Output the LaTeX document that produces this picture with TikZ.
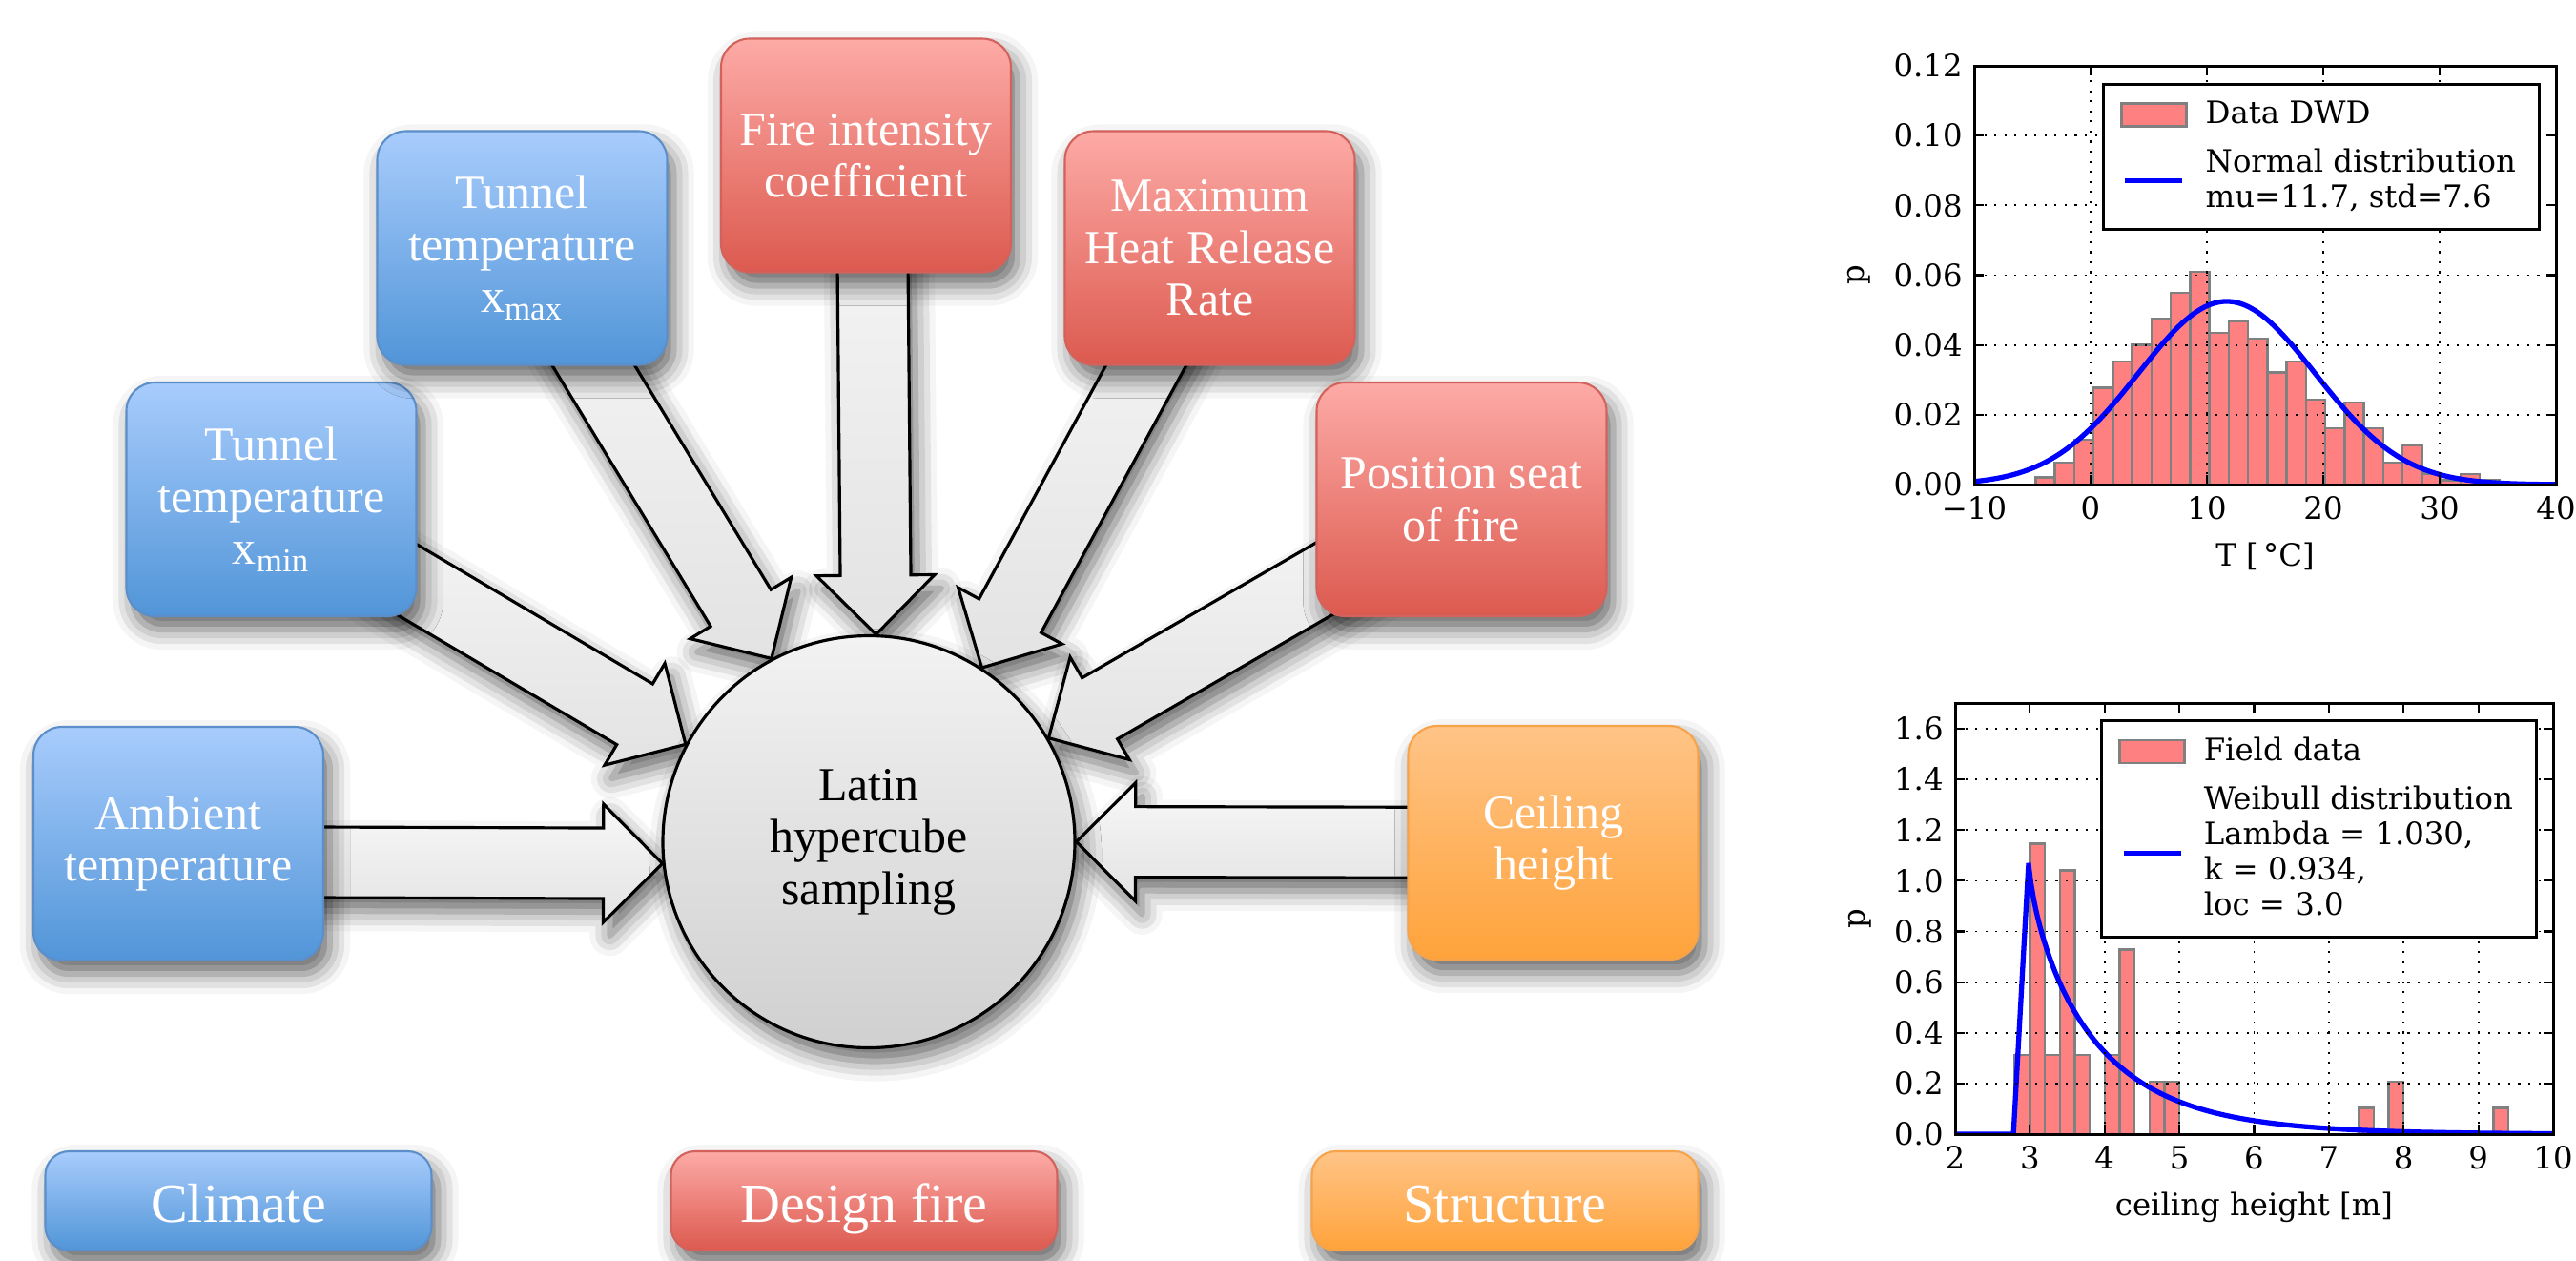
\documentclass[tikz,border=0pt]{standalone}
\usepackage{fontspec}
\setmainfont{Liberation Serif}
\newfontfamily\plotfont{DejaVu Serif}
\usepackage{tikz}
\usetikzlibrary{calc,shadows.blur}
\usepackage{pgfplots}
\pgfplotsset{compat=1.18}

\definecolor{climtop}{HTML}{A8CCFC}
\definecolor{climbot}{HTML}{5195D8}
\definecolor{climline}{HTML}{5C8FC9}
\definecolor{firetop}{HTML}{FDAAA6}
\definecolor{firebot}{HTML}{DC5A4F}
\definecolor{fireline}{HTML}{D2625B}
\definecolor{structtop}{HTML}{FFC487}
\definecolor{structbot}{HTML}{FFA33B}
\definecolor{structline}{HTML}{F6A34A}

\pgfdeclarelayer{back}
\pgfsetlayers{back,main}

% block arrow from a source (box) to a tip on the sampling circle
\newcommand{\feedarrow}[2]{%
  \coordinate (hd) at ($(#2)!0.62cm!(#1)$);
  \draw[feed] ($(#1)!0.37cm!90:(#2)$) -- ($(hd)!0.37cm!90:(#2)$)
    -- ($(hd)!0.62cm!90:(#2)$) -- (#2) -- ($(hd)!0.62cm!-90:(#2)$)
    -- ($(hd)!0.37cm!-90:(#2)$) -- ($(#1)!0.37cm!-90:(#2)$) -- cycle;
}

\pgfplotsset{
  distplot/.style={
    scale only axis, axis on top,
    grid=major,
    major grid style={black, line width=0.5pt, dash pattern=on 0.6pt off 2.4pt},
    axis line style={line width=0.85pt},
    every tick/.style={black, line width=0.6pt}, major tick length=0.1cm,
    tick label style={font={\plotfont\fontsize{9.2pt}{10pt}\selectfont}},
    label style={font={\plotfont\fontsize{9.2pt}{10pt}\selectfont}},
    legend style={draw=black, line width=0.85pt, anchor=north east,
      font={\plotfont\fontsize{9.2pt}{10.5pt}\selectfont},
      cells={anchor=west, align=left}, inner xsep=5pt, inner ysep=3pt,
      row sep=2pt, column sep=0.12cm},
    legend cell align=left,
  },
  histbar/.style={ybar interval, fill=red!50, draw=black!50, line width=0.7pt,
    legend image code/.code={\draw[fill=red!50, draw=black!50, line width=0.7pt]
      (0cm,-0.12cm) rectangle (0.68cm,0.12cm);}},
  pdfcurve/.style={blue, line width=1.5pt, no marks, line join=round,
    legend image code/.code={\draw[blue, line width=1.5pt]
      (0.04cm,0cm) -- (0.64cm,0cm);}},
}

\begin{document}
\begin{tikzpicture}[
  factor/.style={draw, line width=0.6pt, rounded corners=0.3cm,
    minimum width=3.04cm, minimum height=2.45cm, align=center, text=white,
    font={\fontsize{14.2pt}{15.5pt}\selectfont},
    blur shadow={shadow xshift=2pt, shadow yshift=-4pt,
      shadow blur radius=6pt, shadow opacity=60}},
  groupbox/.style={factor, rounded corners=0.25cm,
    minimum width=4.05cm, minimum height=1.04cm,
    text height=0.58cm, text depth=0.13cm,
    font={\fontsize{16.5pt}{18pt}\selectfont}},
  climfill/.style={top color=climtop, bottom color=climbot, draw=climline},
  firefill/.style={top color=firetop, bottom color=firebot, draw=fireline},
  structfill/.style={top color=structtop, bottom color=structbot, draw=structline},
  sampler/.style={circle, draw, line width=0.9pt, minimum size=4.32cm,
    top color=gray!10, bottom color=gray!37, align=center,
    font={\fontsize{14.2pt}{15.5pt}\selectfont},
    blur shadow={shadow xshift=2pt, shadow yshift=-4pt,
      shadow blur radius=6pt, shadow opacity=60}},
  feed/.style={draw, line width=0.9pt, top color=gray!6, bottom color=gray!22,
    blur shadow={shadow xshift=2pt, shadow yshift=-4pt,
      shadow blur radius=6pt, shadow opacity=60}}
]
\useasboundingbox (0,0) rectangle (27.01,-13.21);

% Sampling
\node[sampler] (lhs) at (9.11,-8.825) {Latin\\hypercube\\sampling};

% Input parameters
\node[factor, climfill]   (amb)  at (1.87,-8.845)   {Ambient\\temperature};
\node[factor, climfill]   (tmin) at (2.845,-5.235)  {Tunnel\\temperature\\x\textsubscript{min}};
\node[factor, climfill]   (tmax) at (5.475,-2.60)   {Tunnel\\temperature\\x\textsubscript{max}};
\node[factor, firefill]   (fint) at (9.08,-1.63)    {Fire intensity\\coefficient};
\node[factor, firefill]   (hrr)  at (12.685,-2.60)  {Maximum\\Heat Release\\Rate};
\node[factor, firefill]   (seat) at (15.325,-5.235) {Position seat\\of fire};
\node[factor, structfill] (ceil) at (16.285,-8.835) {Ceiling\\height};

% Groups
\node[groupbox, climfill]   (gclim)   at (2.50,-12.59)  {Climate};
\node[groupbox, firefill]   (gfire)   at (9.06,-12.59)  {Design fire};
\node[groupbox, structfill] (gstruct) at (15.78,-12.59) {Structure};

% Block arrows (behind the boxes)
\begin{pgfonlayer}{back}
\coordinate (ambOut) at ($(amb.center)+(0,-0.19)$);
\coordinate (fintOut) at ($(fint.center)+(0.06,0)$);
\feedarrow{ambOut}{lhs.186}
\feedarrow{tmin}{lhs.152}
\feedarrow{tmax}{lhs.118}
\feedarrow{fintOut}{lhs.88.5}
\feedarrow{hrr}{lhs.57}
\feedarrow{seat}{lhs.30}
\feedarrow{ceil}{lhs.east}
\end{pgfonlayer}

% Temperature distribution
\begin{axis}[distplot, at={(20.70cm,-5.08cm)}, anchor=south west,
  width=6.10cm, height=4.39cm, xmin=-10, xmax=40, ymin=0, ymax=0.12,
  xtick={-10,0,10,20,30,40}, xticklabels={−10,0,10,20,30,40},
  ytick={0,0.02,0.04,0.06,0.08,0.10,0.12},
  yticklabels={0.00,0.02,0.04,0.06,0.08,0.10,0.12},
  xlabel={T [\,°C]}, ylabel={p},
  legend style={at={(0.974,0.959)}}]
\addplot[histbar] coordinates {
  (-4.73,0.0021) (-3.07,0.0063) (-1.41,0.0128) (0.25,0.0277) (1.91,0.0353)
  (3.57,0.0400) (5.23,0.0476) (6.89,0.0549) (8.55,0.0609) (10.21,0.0434)
  (11.87,0.0468) (13.53,0.0418) (15.19,0.0321) (16.85,0.0353) (18.51,0.0244)
  (20.17,0.0162) (21.83,0.0235) (23.49,0.0162) (25.15,0.0063) (26.81,0.0112)
  (28.47,0.0031) (30.13,0.0012) (31.79,0.0030) (33.45,0.0013) (35.11,0)};
\addlegendentry{Data DWD}
\addplot[pdfcurve, domain=-10:40, samples=200]
  {exp(0-((x-11.7)^2)/115.52)/(7.6*2.5066283)};
\addlegendentry{Normal distribution\\mu=11.7, std=7.6}
\end{axis}

% Ceiling height distribution
\begin{axis}[distplot, at={(20.50cm,-11.89cm)}, anchor=south west,
  width=6.27cm, height=4.515cm, xmin=2, xmax=10, ymin=0, ymax=1.7,
  xtick={2,3,4,5,6,7,8,9,10},
  ytick={0,0.2,0.4,0.6,0.8,1.0,1.2,1.4,1.6},
  yticklabels={0.0,0.2,0.4,0.6,0.8,1.0,1.2,1.4,1.6},
  xticklabels={2,3,4,5,6,7,8,9,10},
  xlabel={ceiling height [m]}, ylabel={p},
  legend style={at={(0.9745,0.963)}}]
\addplot[histbar] coordinates {
  (2.8,0.3125) (3.0,1.146) (3.2,0.3125) (3.4,1.042) (3.6,0.3125) (3.8,0)
  (4.0,0.3125) (4.2,0.729) (4.4,0) (4.6,0.208) (4.8,0.208) (5.0,0)
  (7.4,0.104) (7.6,0) (7.8,0.208) (8.0,0) (9.2,0.104) (9.4,0)};
\addlegendentry{Field data}
\addplot[pdfcurve, forget plot] coordinates {(2,0) (2.78,0) (2.98,1.06)};
\addplot[pdfcurve, domain=2.98:10, samples=200]
  {(0.934/1.03)*((x-2.94)/1.03)^(-0.066)*exp(0-((x-2.94)/1.03)^0.934)};
\addlegendentry{Weibull distribution\\Lambda = 1.030,\\k = 0.934,\\loc = 3.0}
\end{axis}
\end{tikzpicture}
\end{document}
